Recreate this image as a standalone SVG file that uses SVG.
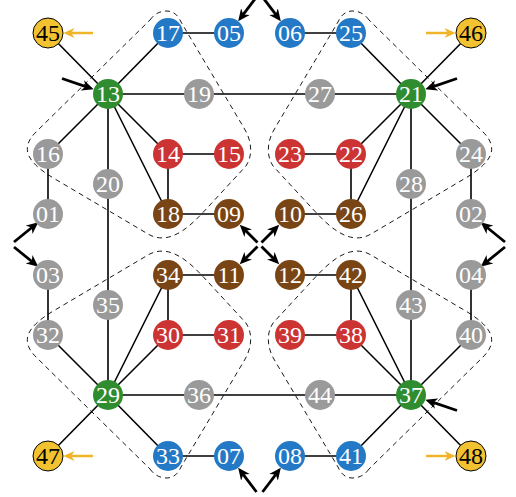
<svg xmlns="http://www.w3.org/2000/svg" xmlns:xlink="http://www.w3.org/1999/xlink" width="516" height="497" viewBox="0 0 516 497">
<style>
.e line{stroke:#000;stroke-width:1.6}
.region{fill:none;stroke:#000;stroke-width:0.9;stroke-dasharray:5 4}
.ba{stroke:#000;stroke-width:2.8;marker-end:url(#ab)}
.ya{stroke:#f0b429;stroke-width:2.5;marker-end:url(#ay)}
text{font-family:"Liberation Serif","DejaVu Serif",serif;font-size:24px;text-anchor:middle;fill:#fff}
.bl{fill:#2479c6}.gr{fill:#2f8c2f}.rd{fill:#cc3333}.br{fill:#7a4514}.gy{fill:#9a9a9a}
.yw{fill:#f2c230;stroke:#000;stroke-width:1}
.yt{fill:#000}
</style>
<defs>
<marker id="ab" viewBox="0 0 10 10" refX="5" refY="5" markerWidth="12" markerHeight="12" markerUnits="userSpaceOnUse" orient="auto"><path d="M0,0.5 L10,5 L0,9.5 L3,5 Z" fill="#000"/></marker>
<marker id="ay" viewBox="0 0 10 10" refX="5" refY="5" markerWidth="11" markerHeight="11" markerUnits="userSpaceOnUse" orient="auto"><path d="M0,0.5 L10,5 L0,9.5 L3,5 Z" fill="#f0b429"/></marker>
<path id="reg" d="M150,20 C155,13 161,11 167,11 C173,11 178,15 181,22 L244,128 C252,141 253,155 246,166 L209,206 C195,221 172,248 148,234 L55,179 C26,162 20,148 36,132 Z"/>
</defs>
<g id="regions">
<use xlink:href="#reg" class="region"/>
<use xlink:href="#reg" class="region" transform="matrix(-1,0,0,1,519,0)"/>
<use xlink:href="#reg" class="region" transform="matrix(1,0,0,-1,0,489)"/>
<use xlink:href="#reg" class="region" transform="matrix(-1,0,0,-1,519,489)"/>
</g>
<g id="connectors" class="e">
<line x1="48" y1="33" x2="108" y2="94"/>
<line x1="108" y1="94" x2="168" y2="33"/>
<line x1="168" y1="33" x2="229" y2="33"/>
<line x1="290" y1="33" x2="351" y2="33"/>
<line x1="351" y1="33" x2="411" y2="94"/>
<line x1="411" y1="94" x2="471" y2="33"/>
<line x1="108" y1="94" x2="411" y2="94"/>
<line x1="108" y1="94" x2="48" y2="154"/>
<line x1="108" y1="94" x2="108" y2="395"/>
<line x1="108" y1="94" x2="168" y2="154"/>
<line x1="108" y1="94" x2="168" y2="214"/>
<line x1="168" y1="154" x2="229" y2="154"/>
<line x1="168" y1="154" x2="168" y2="214"/>
<line x1="168" y1="214" x2="229" y2="214"/>
<line x1="48" y1="154" x2="48" y2="214"/>
<line x1="411" y1="94" x2="471" y2="154"/>
<line x1="411" y1="94" x2="411" y2="395"/>
<line x1="411" y1="94" x2="351" y2="154"/>
<line x1="411" y1="94" x2="351" y2="214"/>
<line x1="290" y1="154" x2="351" y2="154"/>
<line x1="351" y1="154" x2="351" y2="214"/>
<line x1="290" y1="214" x2="351" y2="214"/>
<line x1="471" y1="154" x2="471" y2="214"/>
<line x1="48" y1="275" x2="48" y2="335"/>
<line x1="48" y1="335" x2="108" y2="395"/>
<line x1="108" y1="395" x2="168" y2="275"/>
<line x1="108" y1="395" x2="168" y2="335"/>
<line x1="168" y1="275" x2="168" y2="335"/>
<line x1="168" y1="275" x2="229" y2="275"/>
<line x1="168" y1="335" x2="229" y2="335"/>
<line x1="108" y1="395" x2="411" y2="395"/>
<line x1="108" y1="395" x2="48" y2="456"/>
<line x1="108" y1="395" x2="168" y2="456"/>
<line x1="168" y1="456" x2="229" y2="456"/>
<line x1="290" y1="275" x2="351" y2="275"/>
<line x1="351" y1="275" x2="351" y2="335"/>
<line x1="351" y1="275" x2="411" y2="395"/>
<line x1="351" y1="335" x2="411" y2="395"/>
<line x1="290" y1="335" x2="351" y2="335"/>
<line x1="471" y1="275" x2="471" y2="335"/>
<line x1="471" y1="335" x2="411" y2="395"/>
<line x1="411" y1="395" x2="351" y2="456"/>
<line x1="351" y1="456" x2="290" y2="456"/>
<line x1="411" y1="395" x2="471" y2="456"/>
</g>
<g id="arrows">
<line class="ba" x1="257.5" y1="242.5" x2="244" y2="229"/>
<line class="ba" x1="261.5" y1="242.5" x2="275" y2="229"/>
<line class="ba" x1="257.5" y1="246.5" x2="244" y2="260"/>
<line class="ba" x1="261.5" y1="246.5" x2="275" y2="260"/>
<line class="ba" x1="14" y1="242" x2="33.7" y2="226"/>
<line class="ba" x1="14" y1="247" x2="33.7" y2="263"/>
<line class="ba" x1="505" y1="242" x2="485.3" y2="226"/>
<line class="ba" x1="505" y1="247" x2="485.3" y2="263"/>
<line class="ba" x1="256.5" y1="-3" x2="241.8" y2="16.4"/>
<line class="ba" x1="262.5" y1="-3" x2="277.2" y2="16.4"/>
<line class="ba" x1="256.5" y1="492" x2="241.8" y2="472.6"/>
<line class="ba" x1="262.5" y1="492" x2="277.2" y2="472.6"/>
<line class="ba" x1="62" y1="78.5" x2="88" y2="87.3"/>
<line class="ba" x1="457" y1="78.5" x2="431" y2="87.3"/>
<line class="ba" x1="457" y1="410.5" x2="431" y2="401.7"/>
<line class="ya" x1="93" y1="33" x2="69" y2="33"/>
<line class="ya" x1="426" y1="33" x2="450" y2="33"/>
<line class="ya" x1="93" y1="456" x2="69" y2="456"/>
<line class="ya" x1="426" y1="456" x2="450" y2="456"/>
</g>
<g id="n45"><circle class="yw" cx="48" cy="33" r="15"/><text class="yt" x="48" y="41">45</text></g>
<g id="n17"><circle class="bl" cx="168" cy="33" r="15"/><text x="168" y="41">17</text></g>
<g id="n05"><circle class="bl" cx="229" cy="33" r="15"/><text x="229" y="41">05</text></g>
<g id="n06"><circle class="bl" cx="290" cy="33" r="15"/><text x="290" y="41">06</text></g>
<g id="n25"><circle class="bl" cx="351" cy="33" r="15"/><text x="351" y="41">25</text></g>
<g id="n46"><circle class="yw" cx="471" cy="33" r="15"/><text class="yt" x="471" y="41">46</text></g>
<g id="n13"><circle class="gr" cx="108" cy="94" r="15"/><text x="108" y="102">13</text></g>
<g id="n19"><circle class="gy" cx="199" cy="94" r="15"/><text x="199" y="102">19</text></g>
<g id="n27"><circle class="gy" cx="320" cy="94" r="15"/><text x="320" y="102">27</text></g>
<g id="n21"><circle class="gr" cx="411" cy="94" r="15"/><text x="411" y="102">21</text></g>
<g id="n16"><circle class="gy" cx="48" cy="154" r="15"/><text x="48" y="162">16</text></g>
<g id="n14"><circle class="rd" cx="168" cy="154" r="15"/><text x="168" y="162">14</text></g>
<g id="n15"><circle class="rd" cx="229" cy="154" r="15"/><text x="229" y="162">15</text></g>
<g id="n23"><circle class="rd" cx="290" cy="154" r="15"/><text x="290" y="162">23</text></g>
<g id="n22"><circle class="rd" cx="351" cy="154" r="15"/><text x="351" y="162">22</text></g>
<g id="n24"><circle class="gy" cx="471" cy="154" r="15"/><text x="471" y="162">24</text></g>
<g id="n20"><circle class="gy" cx="108" cy="184" r="15"/><text x="108" y="192">20</text></g>
<g id="n28"><circle class="gy" cx="411" cy="184" r="15"/><text x="411" y="192">28</text></g>
<g id="n01"><circle class="gy" cx="48" cy="214" r="15"/><text x="48" y="222">01</text></g>
<g id="n18"><circle class="br" cx="168" cy="214" r="15"/><text x="168" y="222">18</text></g>
<g id="n09"><circle class="br" cx="229" cy="214" r="15"/><text x="229" y="222">09</text></g>
<g id="n10"><circle class="br" cx="290" cy="214" r="15"/><text x="290" y="222">10</text></g>
<g id="n26"><circle class="br" cx="351" cy="214" r="15"/><text x="351" y="222">26</text></g>
<g id="n02"><circle class="gy" cx="471" cy="214" r="15"/><text x="471" y="222">02</text></g>
<g id="n03"><circle class="gy" cx="48" cy="275" r="15"/><text x="48" y="283">03</text></g>
<g id="n34"><circle class="br" cx="168" cy="275" r="15"/><text x="168" y="283">34</text></g>
<g id="n11"><circle class="br" cx="229" cy="275" r="15"/><text x="229" y="283">11</text></g>
<g id="n12"><circle class="br" cx="290" cy="275" r="15"/><text x="290" y="283">12</text></g>
<g id="n42"><circle class="br" cx="351" cy="275" r="15"/><text x="351" y="283">42</text></g>
<g id="n04"><circle class="gy" cx="471" cy="275" r="15"/><text x="471" y="283">04</text></g>
<g id="n35"><circle class="gy" cx="108" cy="305" r="15"/><text x="108" y="313">35</text></g>
<g id="n43"><circle class="gy" cx="411" cy="305" r="15"/><text x="411" y="313">43</text></g>
<g id="n32"><circle class="gy" cx="48" cy="335" r="15"/><text x="48" y="343">32</text></g>
<g id="n30"><circle class="rd" cx="168" cy="335" r="15"/><text x="168" y="343">30</text></g>
<g id="n31"><circle class="rd" cx="229" cy="335" r="15"/><text x="229" y="343">31</text></g>
<g id="n39"><circle class="rd" cx="290" cy="335" r="15"/><text x="290" y="343">39</text></g>
<g id="n38"><circle class="rd" cx="351" cy="335" r="15"/><text x="351" y="343">38</text></g>
<g id="n40"><circle class="gy" cx="471" cy="335" r="15"/><text x="471" y="343">40</text></g>
<g id="n29"><circle class="gr" cx="108" cy="395" r="15"/><text x="108" y="403">29</text></g>
<g id="n36"><circle class="gy" cx="199" cy="395" r="15"/><text x="199" y="403">36</text></g>
<g id="n44"><circle class="gy" cx="320" cy="395" r="15"/><text x="320" y="403">44</text></g>
<g id="n37"><circle class="gr" cx="411" cy="395" r="15"/><text x="411" y="403">37</text></g>
<g id="n47"><circle class="yw" cx="48" cy="456" r="15"/><text class="yt" x="48" y="464">47</text></g>
<g id="n33"><circle class="bl" cx="168" cy="456" r="15"/><text x="168" y="464">33</text></g>
<g id="n07"><circle class="bl" cx="229" cy="456" r="15"/><text x="229" y="464">07</text></g>
<g id="n08"><circle class="bl" cx="290" cy="456" r="15"/><text x="290" y="464">08</text></g>
<g id="n41"><circle class="bl" cx="351" cy="456" r="15"/><text x="351" y="464">41</text></g>
<g id="n48"><circle class="yw" cx="471" cy="456" r="15"/><text class="yt" x="471" y="464">48</text></g>
</svg>
